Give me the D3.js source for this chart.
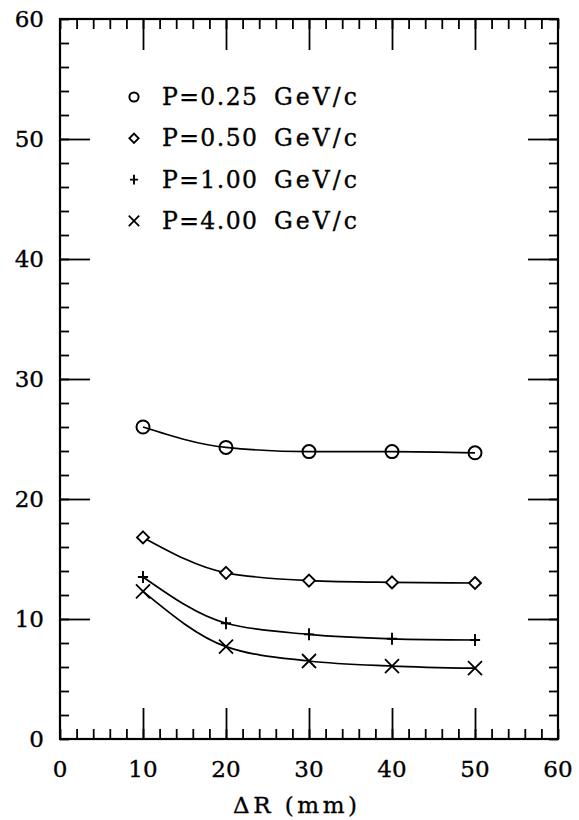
<!DOCTYPE html>
<html><head><meta charset="utf-8">
<script src="https://cdn.jsdelivr.net/npm/d3@7"></script>
<style>
body{margin:0;background:#fff;}
text{font-family:"DejaVu Serif",serif;fill:#000;stroke:#000;stroke-width:0.35px;}
</style></head>
<body><svg id="c" width="579" height="820"></svg>
<script>
const dR = [10, 20, 30, 40, 50];
const p025 = [26.0, 24.3, 23.95, 23.95, 23.85];
const p050 = [16.8, 13.85, 13.2, 13.05, 13.0];
const p100 = [13.5, 9.65, 8.72, 8.35, 8.25];
const p400 = [12.3, 7.7, 6.5, 6.08, 5.9];
const seriesNames = ["P=0.25 GeV/c", "P=0.50 GeV/c", "P=1.00 GeV/c", "P=4.00 GeV/c"];
const markerTypes = ["circle", "diamond", "plus", "cross"];
const xTickLabels = [0, 10, 20, 30, 40, 50, 60];
const yTickLabels = [0, 10, 20, 30, 40, 50, 60];
const xTitle = "ΔR (mm)";

const svg = d3.select("#c");
const x = d3.scaleLinear().domain([0, 60]).range([60, 558]);
const y = d3.scaleLinear().domain([0, 60]).range([739, 19]);

const g = svg.append("g");
g.append("rect").attr("x", x(0)).attr("y", y(60)).attr("width", x(60) - x(0)).attr("height", y(0) - y(60))
  .attr("fill", "none").attr("stroke", "#000").attr("stroke-width", 2.2);

const minor = d3.range(0, 61, 2);
function ticks(axisGen, transform, major, minorLen, majorLen) {
  const gg = g.append("g").attr("transform", transform);
  gg.call(axisGen.tickValues(minor).tickSize(-minorLen).tickFormat(""));
  gg.selectAll(".domain").remove();
  gg.selectAll("line").attr("stroke-width", 1.8);
  const gm = g.append("g").attr("transform", transform);
  gm.call(axisGen.tickValues(major).tickSize(-majorLen).tickFormat(""));
  gm.selectAll(".domain").remove();
  gm.selectAll("line").attr("stroke-width", 1.8);
}
const majorX = [10, 20, 30, 40, 50];
const majorY = [10, 20, 30, 40, 50];
ticks(d3.axisBottom(x), `translate(0,${y(0)})`, majorX, 10, 31);
ticks(d3.axisTop(x), `translate(0,${y(60)})`, majorX, 10, 31);
ticks(d3.axisLeft(y), `translate(${x(0)},0)`, majorY, 9, 30);
ticks(d3.axisRight(y), `translate(${x(60)},0)`, majorY, 9, 30);

g.selectAll(".xl").data(xTickLabels).enter().append("text")
  .attr("x", d => x(d)).attr("y", 777).attr("text-anchor", "middle")
  .attr("font-size", 23).text(d => d);
g.selectAll(".yl").data(yTickLabels).enter().append("text")
  .attr("x", 44).attr("y", d => y(d) + 8).attr("text-anchor", "end")
  .attr("font-size", 23).text(d => d);
g.append("text").attr("x", 233).attr("y", 813)
  .attr("font-size", 23).attr("textLength", 124).attr("lengthAdjust", "spacing").text(xTitle);

function marker(sel, type, s) {
  if (type === "circle") {
    sel.append("circle").attr("r", s).attr("fill", "none").attr("stroke", "#000").attr("stroke-width", 2);
  } else if (type === "diamond") {
    sel.append("path").attr("d", `M0,${-s}L${s},0L0,${s}L${-s},0Z`).attr("fill", "#fff").attr("stroke", "#000").attr("stroke-width", 1.9);
  } else if (type === "plus") {
    sel.append("path").attr("d", `M0,${-s}L0,${s}M${-s * 0.85},0L${s * 0.85},0`).attr("stroke", "#000").attr("stroke-width", 1.9);
    const c = s * 0.35;
    sel.append("path").attr("d", `M0,${-c}L${c},0L0,${c}L${-c},0Z`).attr("fill", "#000");
  } else {
    sel.append("path").attr("d", `M${-s},${-s}L${s},${s}M${-s},${s}L${s},${-s}`).attr("stroke", "#000").attr("stroke-width", 1.8);
  }
}

const allSeries = [p025, p050, p100, p400];
const line = d3.line().x(d => x(d[0])).y(d => y(d[1])).curve(d3.curveMonotoneX);
const sizes = [6.5, 6, 6, 7];
allSeries.forEach((vals, i) => {
  const pts = dR.map((d, j) => [d, vals[j]]);
  g.append("path").attr("d", line(pts)).attr("fill", "none").attr("stroke", "#000").attr("stroke-width", 1.7);
  pts.forEach(p => {
    const m = g.append("g").attr("transform", `translate(${x(p[0])},${y(p[1])})`);
    marker(m, markerTypes[i], sizes[i]);
  });
});

const legSizes = [4.6, 4.6, 4.8, 5.2];
seriesNames.forEach((name, i) => {
  const by = 105 + i * 41.3;
  const m = g.append("g").attr("transform", `translate(134,${by - 8})`);
  marker(m, markerTypes[i], legSizes[i]);
  const parts = name.split(" ");
  g.append("text").attr("x", 162).attr("y", by).attr("font-size", 23.5)
    .attr("textLength", 95).attr("lengthAdjust", "spacing").text(parts[0]);
  g.append("text").attr("x", 274).attr("y", by).attr("font-size", 23.5)
    .attr("textLength", 83).attr("lengthAdjust", "spacing").text(parts[1]);
});
</script></body></html>
